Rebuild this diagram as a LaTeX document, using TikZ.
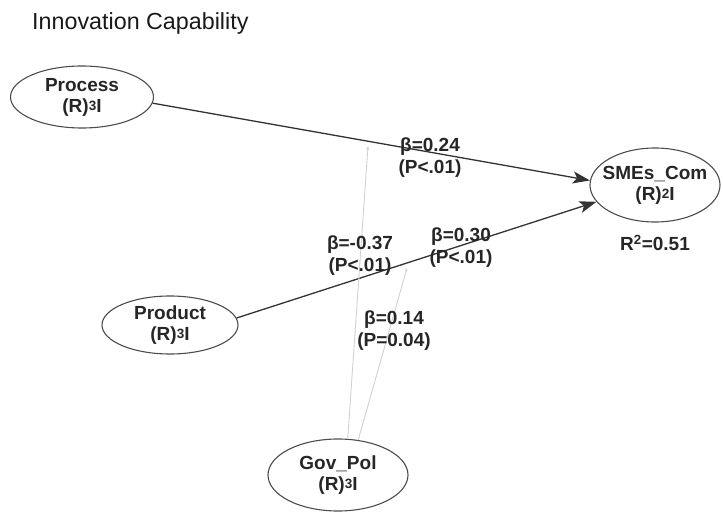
\documentclass[tikz,border=0pt]{standalone}
\usepackage{fontspec}
\setmainfont{Liberation Sans}
\usetikzlibrary{arrows.meta,shapes.geometric}
% indicator count written as "(R)<n>I" with a smaller numeral
\newcommand\rind[1]{(R)\raisebox{1.5pt}{\fontsize{13.5}{13.5}\selectfont #1}I}
% zero-width line so the ellipse size is set by its own dimensions
\newcommand\ctr[1]{\makebox[0pt]{#1}}
\begin{document}
\begin{tikzpicture}[x=1pt,y=-1pt,
  latent/.style={ellipse, draw=black!70, line width=1.1pt, inner sep=0pt, align=center,
    font=\fontsize{19}{21}\selectfont\bfseries, text=black!85},
  coef/.style={align=center, inner sep=0pt,
    font=\fontsize{19}{22}\selectfont\bfseries, text=black!85},
  pathline/.style={draw=black!80, line width=1.3pt,
    -{Stealth[length=17pt,width=12pt,inset=4pt]}},
  modline/.style={draw=black!18, line width=0.9pt,
    -{Stealth[length=4pt,width=3pt]}}
]
\useasboundingbox (0,0) rectangle (723,513);

% title
\node[anchor=base west, inner sep=0pt, font=\fontsize{23.3}{27}\selectfont, text=black!90]
  (title) at (32,30) {Innovation Capability};

% latent variables
\node[latent, minimum width=143pt, minimum height=62pt] (proc) at (82,97)
  {\ctr{Process}\\\ctr{\rind{3}}};
\node[latent, minimum width=136pt, minimum height=58pt] (prod) at (170,325)
  {\ctr{Product}\\\ctr{\rind{3}}};
\node[latent, minimum width=140pt, minimum height=72pt] (gov) at (338,475)
  {\ctr{Gov\_Pol}\\\ctr{\rind{3}}};
\node[latent, minimum width=130pt, minimum height=74pt] (smes) at (655,185)
  {\ctr{SMEs\_Com}\\\ctr{\rind{2}}};

% structural paths
\draw[pathline] (proc.-5) -- (smes.176);
\draw[pathline] (prod.6) -- (smes.196);

% moderating effects of Gov_Pol on the two paths
\coordinate (m1) at (368,146);
\coordinate (m2) at (407,268);
\draw[modline] (gov.75.6) -- (m1);
\draw[modline] (gov.60) -- (m2);

% path coefficients
\node[coef] (c1) at (430,158) {β=0.24\\(P<.01)};
\node[coef] (c2) at (360,256) {β=-0.37\\(P<.01)};
\node[coef] (c3) at (461,248) {β=0.30\\(P<.01)};
\node[coef] (c4) at (394,331) {β=0.14\\(P=0.04)};
\node[coef] (r2) at (655,243) {R\textsuperscript{2}=0.51};
\end{tikzpicture}
\end{document}
